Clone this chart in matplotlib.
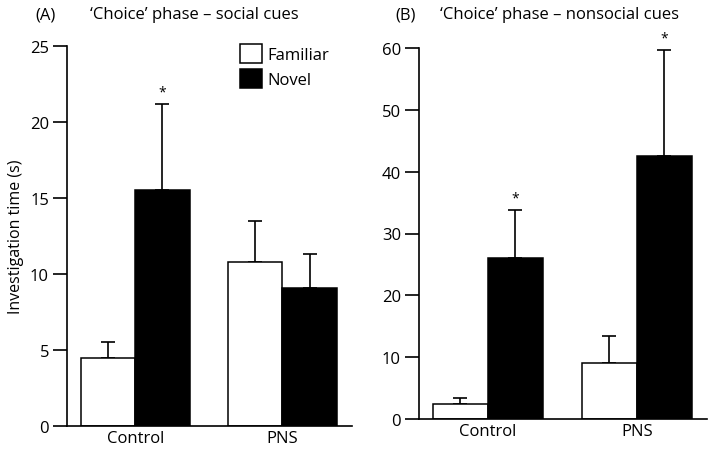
import matplotlib
matplotlib.use("Agg")
import matplotlib.pyplot as plt
from matplotlib.patches import Patch
import numpy as np

plt.rcParams['font.family'] = ['Open Sans', 'DejaVu Sans']

groups = ["Control", "PNS"]
series = ["Familiar", "Novel"]

# Panel A: social cues
a_familiar = [4.5, 10.8]
a_familiar_err = [1.0, 2.7]
a_novel = [15.5, 9.1]
a_novel_err = [5.7, 2.2]
a_sig = [True, False]

# Panel B: nonsocial cues
b_familiar = [2.5, 9.0]
b_familiar_err = [0.9, 4.4]
b_novel = [26.0, 42.5]
b_novel_err = [7.8, 17.2]
b_sig = [True, True]

a_yticks = [0, 5, 10, 15, 20, 25]
b_yticks = [0, 10, 20, 30, 40, 50, 60]

FS = 12

W, H = 709, 452
fig = plt.figure(figsize=(W / 100, H / 100), dpi=100)

def make_ax(l, r, b, t):
    return fig.add_axes([l / W, 1 - b / H, (r - l) / W, (b - t) / H])

axA = make_ax(67, 352, 427, 47)
axB = make_ax(419, 707, 420, 49)

bw = 0.37
x = np.arange(len(groups))

def draw(ax, fam, fam_err, nov, nov_err, sig, yticks, ymax, star_off):
    ax.bar(x - bw / 2, fam, bw, color="white", edgecolor="black", linewidth=1.1,
           label="Familiar", zorder=2)
    ax.bar(x + bw / 2, nov, bw, color="black", edgecolor="black", linewidth=1.1,
           label="Novel", zorder=2)
    ax.errorbar(x - bw / 2, fam, yerr=[np.zeros(len(fam)), fam_err], fmt="none",
                ecolor="black", elinewidth=1.2, capsize=4.7, capthick=1.2, zorder=1)
    ax.errorbar(x + bw / 2, nov, yerr=[np.zeros(len(nov)), nov_err], fmt="none",
                ecolor="black", elinewidth=1.2, capsize=4.7, capthick=1.2, zorder=1)
    for i, s in enumerate(sig):
        if s:
            ax.text(x[i] + bw / 2, nov[i] + nov_err[i] + star_off, "*",
                    ha="center", va="center", fontsize=10)
    ax.set_xlim(-0.463, 1.472)
    ax.set_ylim(0, ymax)
    ax.set_yticks(yticks)
    ax.set_xticks(x)
    ax.set_xticklabels(groups, fontsize=FS)
    ax.tick_params(axis="y", direction="out", length=10, width=1.2, labelsize=FS, pad=3)
    ax.tick_params(axis="x", length=0, pad=3)
    for s in ["top", "right"]:
        ax.spines[s].set_visible(False)
    for s in ["left", "bottom"]:
        ax.spines[s].set_linewidth(1.2)

draw(axA, a_familiar, a_familiar_err, a_novel, a_novel_err, a_sig, a_yticks, 25, 0.75)
draw(axB, b_familiar, b_familiar_err, b_novel, b_novel_err, b_sig, b_yticks, 60, 1.9)

axA.set_ylabel("Investigation time (s)", fontsize=11.5, labelpad=4)

ty = 1 - 15 / H
fig.text(35 / W, ty, "(A)", fontsize=FS, va="center", ha="left")
fig.text(90 / W, ty, "\u2018Choice\u2019 phase \u2013 social cues", fontsize=FS, va="center", ha="left")
fig.text(395 / W, ty, "(B)", fontsize=FS, va="center", ha="left")
fig.text(440 / W, ty, "\u2018Choice\u2019 phase \u2013 nonsocial cues", fontsize=FS, va="center", ha="left")

handles = [Patch(facecolor="white", edgecolor="black", linewidth=1.1),
           Patch(facecolor="black", edgecolor="black", linewidth=1.1)]
axA.legend(handles, series, loc="upper left", bbox_to_anchor=(165 / 285, 1.028),
           frameon=False, fontsize=FS, handlelength=1.32, handleheight=1.38,
           handletextpad=0.3, labelspacing=0.35, borderpad=0)

fig.savefig("out.png", dpi=100)
